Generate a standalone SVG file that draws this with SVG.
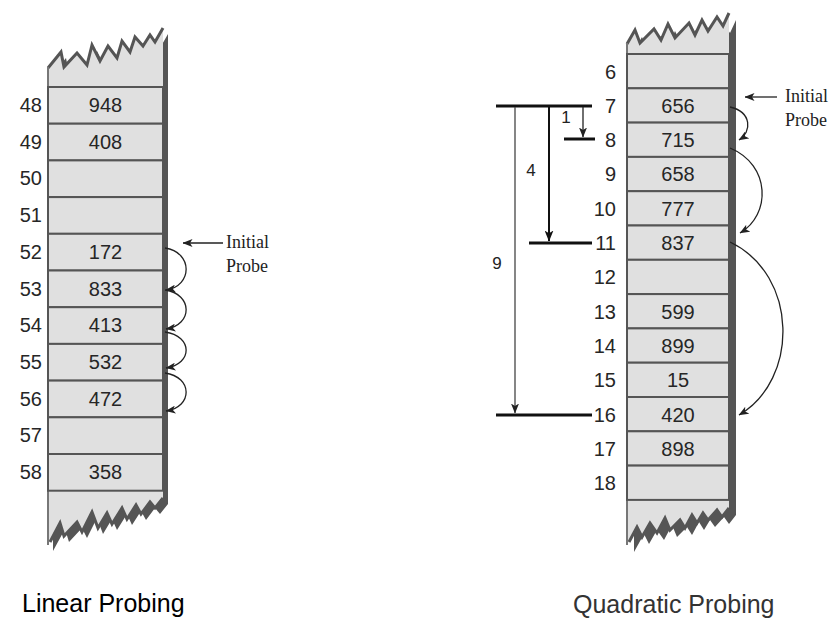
<svg xmlns="http://www.w3.org/2000/svg" width="840" height="634" viewBox="0 0 840 634">
<defs>
<style>
.cell{fill:#e0e0e0;stroke:#555;stroke-width:2}
.body{fill:#e0e0e0}
.shadow{fill:#555}
.jag{fill:none;stroke:#555;stroke-width:3;stroke-linejoin:miter}
.edge{stroke:#777;stroke-width:2}
.num{font-family:"Liberation Sans",Arial,sans-serif;font-size:20px;fill:#262626}
.idx{text-anchor:end}
.val{text-anchor:middle}
.note{font-family:"Liberation Serif","Times New Roman",serif;font-size:18px;fill:#222}
.cap{font-family:"Liberation Sans",Arial,sans-serif;font-size:25px}
.step{font-family:"Liberation Sans",Arial,sans-serif;font-size:17px;fill:#222;text-anchor:middle}
.arc{fill:none;stroke:#222;stroke-width:1.3}
.bar{stroke:#111;stroke-width:3}
</style>
<marker id="ah" viewBox="0 0 10 8" refX="9.5" refY="4" markerWidth="10" markerHeight="8" markerUnits="userSpaceOnUse" orient="auto">
<path d="M0,0 L10,4 L0,8 L2.5,4 z" fill="#222"/>
</marker>
<marker id="ahb" viewBox="0 0 10 8" refX="9.5" refY="4" markerWidth="11" markerHeight="9" markerUnits="userSpaceOnUse" orient="auto">
<path d="M0,0 L10,4 L0,8 L2.5,4 z" fill="#111"/>
</marker>
</defs>
<rect width="840" height="634" fill="#fff"/>

<!-- Left array (linear probing) -->
<g id="linear-array">
<polygon class="shadow" transform="translate(5,6)" points="48,68 61,52 64,67 77,53 87,65 92,45 100,61 108,46 117,58 122,41 130,52 135,37 143,46 150,35 155,42 163,28 163,498 155,508 150,502 141,514 136,505 127,519 122,508 112,524 107,513 98,528 92,512 82,532 77,522 64,536 60,523 48,545"/>
<polygon class="body" points="48,68 61,52 64,67 77,53 87,65 92,45 100,61 108,46 117,58 122,41 130,52 135,37 143,46 150,35 155,42 163,28 163,498 155,508 150,502 141,514 136,505 127,519 122,508 112,524 107,513 98,528 92,512 82,532 77,522 64,536 60,523 48,545"/>
<polyline class="jag" points="48,68 61,52 64,67 77,53 87,65 92,45 100,61 108,46 117,58 122,41 130,52 135,37 143,46 150,35 155,42 163,28"/>
<polyline class="jag" points="163,498 155,508 150,502 141,514 136,505 127,519 122,508 112,524 107,513 98,528 92,512 82,532 77,522 64,536 60,523 50,542"/>
<line class="edge" x1="48" y1="67" x2="48" y2="545"/>
</g>
<g id="L48"><rect class="cell" x="48" y="87" width="115" height="36.7"/><text class="num idx" x="42" y="112">48</text><text class="num val" x="105.5" y="112">948</text></g>
<g id="L49"><rect class="cell" x="48" y="123.7" width="115" height="36.7"/><text class="num idx" x="42" y="148.7">49</text><text class="num val" x="105.5" y="148.7">408</text></g>
<g id="L50"><rect class="cell" x="48" y="160.4" width="115" height="36.7"/><text class="num idx" x="42" y="185.4">50</text></g>
<g id="L51"><rect class="cell" x="48" y="197.1" width="115" height="36.7"/><text class="num idx" x="42" y="222.1">51</text></g>
<g id="L52"><rect class="cell" x="48" y="233.8" width="115" height="36.7"/><text class="num idx" x="42" y="258.8">52</text><text class="num val" x="105.5" y="258.8">172</text></g>
<g id="L53"><rect class="cell" x="48" y="270.5" width="115" height="36.7"/><text class="num idx" x="42" y="295.5">53</text><text class="num val" x="105.5" y="295.5">833</text></g>
<g id="L54"><rect class="cell" x="48" y="307.2" width="115" height="36.7"/><text class="num idx" x="42" y="332.2">54</text><text class="num val" x="105.5" y="332.2">413</text></g>
<g id="L55"><rect class="cell" x="48" y="343.9" width="115" height="36.7"/><text class="num idx" x="42" y="368.9">55</text><text class="num val" x="105.5" y="368.9">532</text></g>
<g id="L56"><rect class="cell" x="48" y="380.6" width="115" height="36.7"/><text class="num idx" x="42" y="405.6">56</text><text class="num val" x="105.5" y="405.6">472</text></g>
<g id="L57"><rect class="cell" x="48" y="417.3" width="115" height="36.7"/><text class="num idx" x="42" y="442.3">57</text></g>
<g id="L58"><rect class="cell" x="48" y="454" width="115" height="36.7"/><text class="num idx" x="42" y="479">58</text><text class="num val" x="105.5" y="479">358</text></g>

<!-- Right array (quadratic probing) -->
<g id="quadratic-array">
<polygon class="shadow" transform="translate(7,7)" points="627,44 635,30 640,43 654,29 661,40 668,24 675,38 689,23 695,35 702,20 708,31 717,17 723,26 729,13 729,508 722,517 717,510 708,520 703,513 697,523 692,515 685,528 680,520 670,530 665,518 657,533 650,523 642,537 637,527 627,545"/>
<polygon class="body" points="627,44 635,30 640,43 654,29 661,40 668,24 675,38 689,23 695,35 702,20 708,31 717,17 723,26 729,13 729,508 722,517 717,510 708,520 703,513 697,523 692,515 685,528 680,520 670,530 665,518 657,533 650,523 642,537 637,527 627,545"/>
<polyline class="jag" points="627,44 635,30 640,43 654,29 661,40 668,24 675,38 689,23 695,35 702,20 708,31 717,17 723,26 729,13"/>
<polyline class="jag" points="729,508 722,517 717,510 708,520 703,513 697,523 692,515 685,528 680,520 670,530 665,518 657,533 650,523 642,537 637,527 629,542"/>
<line class="edge" x1="627" y1="43" x2="627" y2="545"/>
</g>
<g id="Q6"><rect class="cell" x="627" y="54" width="102" height="34.3"/><text class="num idx" x="616" y="78.5">6</text></g>
<g id="Q7"><rect class="cell" x="627" y="88.3" width="102" height="34.3"/><text class="num idx" x="616" y="112.8">7</text><text class="num val" x="678" y="112.8">656</text></g>
<g id="Q8"><rect class="cell" x="627" y="122.6" width="102" height="34.3"/><text class="num idx" x="616" y="147.1">8</text><text class="num val" x="678" y="147.1">715</text></g>
<g id="Q9"><rect class="cell" x="627" y="156.9" width="102" height="34.3"/><text class="num idx" x="616" y="181.4">9</text><text class="num val" x="678" y="181.4">658</text></g>
<g id="Q10"><rect class="cell" x="627" y="191.2" width="102" height="34.3"/><text class="num idx" x="616" y="215.7">10</text><text class="num val" x="678" y="215.7">777</text></g>
<g id="Q11"><rect class="cell" x="627" y="225.5" width="102" height="34.3"/><text class="num idx" x="616" y="250">11</text><text class="num val" x="678" y="250">837</text></g>
<g id="Q12"><rect class="cell" x="627" y="259.8" width="102" height="34.3"/><text class="num idx" x="616" y="284.3">12</text></g>
<g id="Q13"><rect class="cell" x="627" y="294.1" width="102" height="34.3"/><text class="num idx" x="616" y="318.6">13</text><text class="num val" x="678" y="318.6">599</text></g>
<g id="Q14"><rect class="cell" x="627" y="328.4" width="102" height="34.3"/><text class="num idx" x="616" y="352.9">14</text><text class="num val" x="678" y="352.9">899</text></g>
<g id="Q15"><rect class="cell" x="627" y="362.7" width="102" height="34.3"/><text class="num idx" x="616" y="387.2">15</text><text class="num val" x="678" y="387.2">15</text></g>
<g id="Q16"><rect class="cell" x="627" y="397" width="102" height="34.3"/><text class="num idx" x="616" y="421.5">16</text><text class="num val" x="678" y="421.5">420</text></g>
<g id="Q17"><rect class="cell" x="627" y="431.3" width="102" height="34.3"/><text class="num idx" x="616" y="455.8">17</text><text class="num val" x="678" y="455.8">898</text></g>
<g id="Q18"><rect class="cell" x="627" y="465.6" width="102" height="34.3"/><text class="num idx" x="616" y="490.1">18</text></g>

<!-- Notes -->
<g id="note-left"><text class="note" x="226" y="248">Initial</text><text class="note" x="226" y="272">Probe</text></g>
<g id="note-right"><text class="note" x="785" y="102">Initial</text><text class="note" x="785" y="126">Probe</text></g>

<!-- Connectors -->
<g id="connectors">
<line class="arc" x1="223" y1="243" x2="183" y2="243" marker-end="url(#ah)"/>
<path class="arc" d="M165,248 C193,252 193,286 166,290" marker-end="url(#ah)"/>
<path class="arc" d="M165,290 C193,294 193,325 166,329" marker-end="url(#ah)"/>
<path class="arc" d="M165,332 C193,336 193,364 166,368" marker-end="url(#ah)"/>
<path class="arc" d="M165,373 C193,377 193,407 166,411" marker-end="url(#ah)"/>

<line class="arc" x1="777" y1="97" x2="745" y2="97" marker-end="url(#ah)"/>
<path class="arc" d="M730,107 C752,112 752,132 739,140" marker-end="url(#ah)"/>
<path class="arc" d="M730,148 C771,165 771,215 740,233" marker-end="url(#ah)"/>
<path class="arc" d="M730,242 C799,275 799,380 739,415" marker-end="url(#ah)"/>

<line class="bar" x1="496" y1="106" x2="592" y2="106"/>
<line class="bar" x1="564" y1="139" x2="595" y2="139"/>
<line class="bar" x1="529" y1="243" x2="592" y2="243"/>
<line class="bar" x1="496" y1="415" x2="592" y2="415"/>
<line stroke="#222" stroke-width="1.3" x1="583" y1="107" x2="583" y2="137" marker-end="url(#ah)"/>
<line stroke="#111" stroke-width="2" x1="549" y1="107" x2="549" y2="241" marker-end="url(#ahb)"/>
<line stroke="#444" stroke-width="1.3" x1="515" y1="107" x2="515" y2="413" marker-end="url(#ah)"/>
<text class="step" x="566" y="123">1</text>
<text class="step" x="531" y="176">4</text>
<text class="step" x="497" y="269">9</text>
</g>

<!-- Captions -->
<text class="cap" x="22" y="612" fill="#000">Linear Probing</text>
<text class="cap" x="573" y="613" fill="#333">Quadratic Probing</text>
</svg>
